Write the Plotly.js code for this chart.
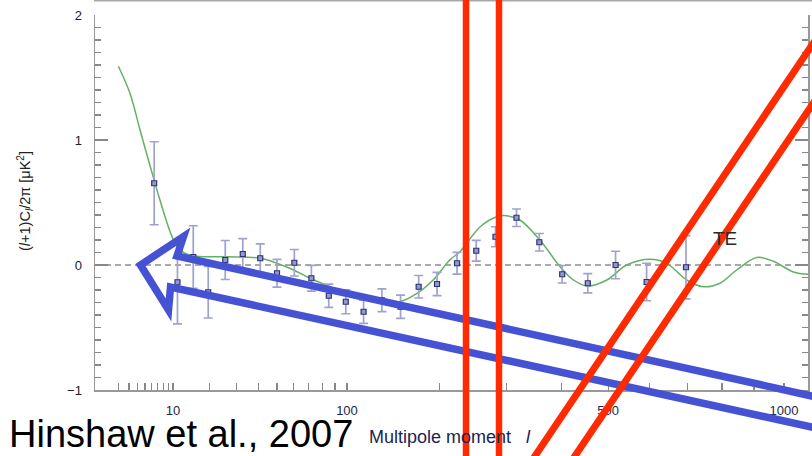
<!DOCTYPE html>
<html><head><meta charset="utf-8">
<script src="https://cdn.plot.ly/plotly-3.0.1.min.js"></script>
<style>html,body{margin:0;padding:0;background:#fff}#chart{width:812px;height:456px}</style>
</head><body><div id="chart"></div>
<script>
// ---- data (multipole l, TE power in uK^2) ----
const pointL   = [6.4, 11, 15, 19.5, 25.5, 32.7, 41, 50, 60.5, 72, 85, 99, 115, 133, 153, 174, 197, 224, 252, 282, 317, 358, 402, 455, 517, 592, 696];
const pointTE  = [0.654, -0.138, 0.064, -0.218, 0.040, 0.088, 0.054, -0.066, 0.018, -0.106, -0.246, -0.294, -0.374, -0.282, -0.334, -0.174, -0.152, 0.014, 0.114, 0.226, 0.378, 0.182, -0.074, -0.146, 0.000, -0.136, -0.018];
const pointErr = [0.332, 0.333, 0.250, 0.206, 0.156, 0.123, 0.115, 0.111, 0.106, 0.103, 0.093, 0.096, 0.093, 0.091, 0.093, 0.090, 0.093, 0.087, 0.083, 0.080, 0.070, 0.070, 0.070, 0.077, 0.110, 0.150, 0.253];

const modelL  = [2, 3.1, 4.3, 5.7, 7.4, 9.4, 10.7, 12.4, 15, 26, 41, 50, 60, 71, 86, 103, 118, 134.5, 152, 172, 192, 214, 228, 258, 284, 300, 323, 359, 398, 425, 455, 497, 543, 601, 644, 698, 745, 794, 845, 909, 964, 1033, 1090];
const modelTE = [1.59, 1.374, 1.08, 0.80, 0.52, 0.264, 0.16, 0.10, 0.072, 0.066, 0.054, 0.014, -0.04, -0.106, -0.174, -0.24, -0.28, -0.302, -0.294, -0.227, -0.12, 0.04, 0.106, 0.306, 0.386, 0.394, 0.36, 0.20, -0.014, -0.12, -0.168, -0.12, 0.0, 0.046, 0.013, -0.12, -0.174, -0.146, -0.04, 0.06, 0.03, -0.056, -0.075];

const tickMajor  = [10, 100, 500, 1000];
const tickLabels = ['10', '100', '500', '1000'];
const tickMinor  = [2, 3, 4, 5, 6, 7, 8, 9, 20, 30, 40, 50, 60, 70, 80, 90, 200, 300, 400, 600, 700, 800, 900];

// x axis of the original is scaled as l^0.4
const P = 0.4;
const tr = l => Math.pow(l, P);

// ---- layout geometry (pixels) ----
const ML = 95, MR = 4, MT = 15, MB = 66, W = 812 - ML - MR, H = 456 - MT - MB;
const px = x => (x - ML) / W;
const py = y => (MT + H - y) / H;
const pathOf = pts => pts.map((p, i) => (i ? 'L' : 'M') + px(p[0]).toFixed(4) + ',' + py(p[1]).toFixed(4)).join(' ');

const FONT = 'Liberation Sans, Arial, Helvetica, sans-serif';
const BLUE = '#4552d4', RED = '#ff2a00';

const traces = [
  { x: modelL.map(tr), y: modelTE, mode: 'lines', type: 'scatter',
    line: { color: '#63b163', width: 1.5, shape: 'spline', smoothing: 1 }, hoverinfo: 'skip' },
  { x: pointL.map(tr), y: pointTE, mode: 'markers', type: 'scatter',
    error_y: { type: 'data', array: pointErr, visible: true, color: '#9ea2cd', thickness: 1.7, width: 4.5 },
    marker: { symbol: 'square', size: 5, color: '#9499cc', line: { color: '#2c3275', width: 1.2 } } }
];

const shapes = [
  { type: 'line', xref: 'paper', yref: 'y', x0: 0, x1: 1, y0: 0, y1: 0, layer: 'below',
    line: { color: '#555', width: 1.2, dash: '6px,4px' } },
  { type: 'line', xref: 'paper', yref: 'paper', x0: px(94), x1: px(812), y0: py(0.8), y1: py(0.8),
    line: { color: '#a8a8a8', width: 1.5 } },
  // blue outlined arrow
  { type: 'path', xref: 'paper', yref: 'paper', layer: 'above',
    path: pathOf([[830, 400], [177, 256], [183.5, 236.5], [140.5, 265], [168.5, 310], [170.5, 287], [830, 431]]),
    line: { color: BLUE, width: 7.5 } },
  // red lines
  { type: 'line', xref: 'paper', yref: 'paper', x0: px(466), x1: px(466), y0: py(-5), y1: py(462), line: { color: RED, width: 6.5 } },
  { type: 'line', xref: 'paper', yref: 'paper', x0: px(499), x1: px(499), y0: py(-5), y1: py(462), line: { color: RED, width: 6.5 } },
  { type: 'line', xref: 'paper', yref: 'paper', x0: px(525.6), x1: px(849), y0: py(470), y1: py(-10), line: { color: RED, width: 7 } },
  { type: 'line', xref: 'paper', yref: 'paper', x0: px(565.5), x1: px(888), y0: py(470), y1: py(-7.5), line: { color: RED, width: 7 } }
];

const annotations = [
  { text: 'Hinshaw et al., 2007', xref: 'paper', yref: 'paper', x: px(8), y: py(456), xanchor: 'left', yanchor: 'bottom',
    borderpad: 0, showarrow: false, font: { family: FONT, size: 38, color: '#000' } },
  { text: 'Multipole moment\u00a0\u00a0\u00a0<i>l</i>', xref: 'paper', yref: 'paper', x: px(367), y: py(437), xanchor: 'left', yanchor: 'middle',
    showarrow: false, font: { family: FONT, size: 18, color: '#1b2452' } },
  { text: 'TE', xref: 'paper', yref: 'paper', x: px(725), y: py(238), xanchor: 'center', yanchor: 'middle',
    showarrow: false, font: { family: FONT, size: 19, color: '#2a2a2a' } },
  { text: '(<i>l</i>+1)C<sub><i>l</i></sub>/2π [μK<sup>2</sup>]', xref: 'paper', yref: 'paper', x: px(25), y: py(201),
    xanchor: 'center', yanchor: 'middle', textangle: -90, showarrow: false, font: { family: FONT, size: 14.5, color: '#222' } }
];

const layout = {
  width: 812, height: 456,
  margin: { l: ML, r: MR, t: MT, b: MB, pad: 0 },
  paper_bgcolor: '#fff', plot_bgcolor: '#fff',
  showlegend: false,
  font: { family: FONT, size: 13, color: '#222' },
  xaxis: {
    range: [tr(10) - (173 - 95) / 45.81, tr(10) + (808 - 173) / 45.81],
    tickmode: 'array', tickvals: tickMajor.map(tr), ticktext: tickLabels,
    ticks: 'inside', ticklen: 7, tickwidth: 1.3, tickcolor: '#888',
    minor: { tickmode: 'array', tickvals: tickMinor.map(tr), ticks: 'inside', ticklen: 7, tickwidth: 1.3, tickcolor: '#888', showgrid: false },
    showline: true, linecolor: '#999', linewidth: 1.5, mirror: false,
    showgrid: false, zeroline: false, ticklabelstandoff: 8,
    tickfont: { family: FONT, size: 13, color: '#22264a' }
  },
  yaxis: {
    range: [-1, 2], tickmode: 'linear', tick0: 0, dtick: 1,
    ticks: 'inside', ticklen: 13, tickwidth: 1.3, tickcolor: '#888',
    minor: { dtick: 0.1, tick0: 0, ticks: 'inside', ticklen: 6, tickwidth: 1.2, tickcolor: '#888', showgrid: false },
    showline: true, linecolor: '#999', linewidth: 1.5, mirror: 'ticks',
    showgrid: false, zeroline: false, ticklabelstandoff: 9,
    tickfont: { family: FONT, size: 13, color: '#222' }
  },
  shapes: shapes,
  annotations: annotations
};

Plotly.newPlot('chart', traces, layout, { displayModeBar: false, staticPlot: true });
</script>
</body></html>
